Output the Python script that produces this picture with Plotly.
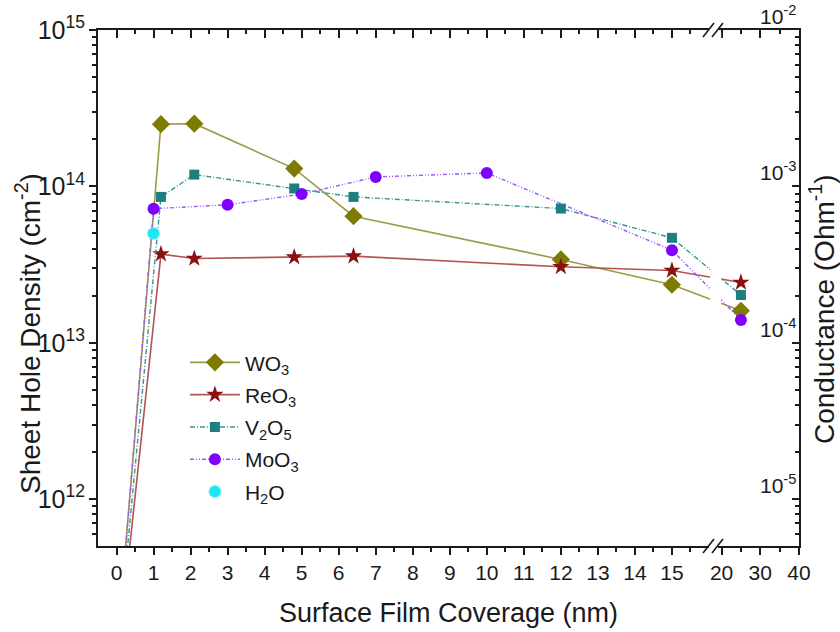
import plotly.graph_objects as go

# ---------------- data ----------------
coverage_wo3 = [0, 1.2, 2.1, 4.8, 6.4, 12, 15, 25]
density_wo3 = [1.0e11, 2.50e14, 2.52e14, 1.30e14, 6.45e13, 3.41e13, 2.35e13, 1.60e13]

coverage_reo3 = [0, 1.2, 2.1, 4.8, 6.4, 12, 15, 25]
density_reo3 = [8.0e10, 3.69e13, 3.46e13, 3.53e13, 3.58e13, 3.06e13, 2.90e13, 2.43e13]

coverage_v2o5 = [0, 1.2, 2.1, 4.8, 6.4, 12, 15, 25]
density_v2o5 = [9.0e10, 8.57e13, 1.19e14, 9.70e13, 8.57e13, 7.22e13, 4.69e13, 2.02e13]

coverage_moo3 = [0, 1, 3, 5, 7, 10, 15, 25]
density_moo3 = [9.5e10, 7.20e13, 7.63e13, 8.93e13, 1.15e14, 1.22e14, 3.91e13, 1.40e13]

coverage_h2o = [1.0]
density_h2o = [5.0e13]

x_major_labels = ["0", "1", "2", "3", "4", "5", "6", "7", "8", "9", "10",
                  "11", "12", "13", "14", "15", "20", "30", "40"]
x_major_values = [0, 1, 2, 3, 4, 5, 6, 7, 8, 9, 10, 11, 12, 13, 14, 15, 20, 30, 40]
x_minor_values = [0.5, 1.5, 2.5, 3.5, 4.5, 5.5, 6.5, 7.5, 8.5, 9.5, 10.5,
                  11.5, 12.5, 13.5, 14.5, 15.5, 25, 35]

conductance_exponents = [-2, -3, -4, -5]
conductance_labels = ["10<sup>-2</sup>", "10<sup>-3</sup>", "10<sup>-4</sup>", "10<sup>-5</sup>"]

# ---------------- broken-axis scale ----------------
SEG2_START = 16.34     # display position of x = 20
SEG2_SCALE = 0.1045    # display units per nm after the break


def brk(x):
    return x if x <= 16 else SEG2_START + (x - 20) * SEG2_SCALE


def brk_all(xs):
    return [brk(v) for v in xs]


X_RANGE = [-0.5, brk(40) + 0.001]
Y_RANGE = [11.70, 15.0005]
Y2_OFFSET = 17  # conductance = density * 1e-17

FONT = "Arial, Liberation Sans, sans-serif"
INK = "#1a1a1a"

fig = go.Figure()

fig.add_trace(go.Scatter(
    x=brk_all(coverage_wo3), y=density_wo3, mode="lines+markers", name="WO<sub>3</sub>",
    legendgroup="a",
    line=dict(color="#9c9a48", width=1.6),
    marker=dict(symbol="diamond", size=14, color="#7d7b00")))
fig.add_trace(go.Scatter(
    x=brk_all(coverage_reo3), y=density_reo3, mode="lines+markers", name="ReO<sub>3</sub>",
    legendgroup="b",
    line=dict(color="#b25454", width=1.6),
    marker=dict(symbol="star", size=13, color="#8b1010")))
fig.add_trace(go.Scatter(
    x=brk_all(coverage_v2o5), y=density_v2o5, mode="lines+markers", name="V<sub>2</sub>O<sub>5</sub>",
    legendgroup="c",
    line=dict(color="#3a9494", width=1.4, dash="5px,2px,1px,2px"),
    marker=dict(symbol="square", size=10, color="#1e7f7f")))
fig.add_trace(go.Scatter(
    x=brk_all(coverage_moo3), y=density_moo3, mode="lines+markers", name="MoO<sub>3</sub>",
    legendgroup="d",
    line=dict(color="#9a55ff", width=1.4, dash="4px,2px,1px,2px,1px,2px"),
    marker=dict(symbol="circle", size=12, color="#7f00ff")))
fig.add_trace(go.Scatter(
    x=brk_all(coverage_h2o), y=density_h2o, mode="markers", name="H<sub>2</sub>O",
    legendgroup="e",
    marker=dict(symbol="circle", size=12, color="#1ee6f0",
                line=dict(color="#7ff4f8", width=1))))

# helper traces so that the mirrored top axis and the right axis are drawn
fig.add_trace(go.Scatter(x=[], y=[], xaxis="x2", yaxis="y", showlegend=False, hoverinfo="skip"))
fig.add_trace(go.Scatter(x=[], y=[], xaxis="x", yaxis="y2", showlegend=False, hoverinfo="skip"))

axis_common = dict(showline=True, linecolor=INK, linewidth=2, showgrid=False,
                   zeroline=False, tickcolor=INK, tickwidth=1.5, automargin=False)

fig.update_layout(
    template="none",
    width=840, height=632,
    margin=dict(l=98, r=41, t=30, b=86),
    paper_bgcolor="white", plot_bgcolor="white",
    font=dict(family=FONT, size=21, color=INK),
    showlegend=True,
    legend=dict(x=0.124, y=0.395, xanchor="left", yanchor="top",
                bgcolor="rgba(0,0,0,0)", font=dict(size=21, color=INK),
                traceorder="grouped", tracegroupgap=2, itemwidth=50),
    xaxis=dict(
        **axis_common, range=X_RANGE, domain=[0, 1],
        tickmode="array", tickvals=brk_all(x_major_values), ticktext=x_major_labels,
        ticks="outside", ticklen=7, ticklabeloverflow="allow",
        minor=dict(tickmode="array", tickvals=brk_all(x_minor_values), ticks="outside",
                   ticklen=4, tickcolor=INK, tickwidth=1.5),
        tickfont=dict(size=21),
        title=dict(text="Surface Film Coverage (nm)", font=dict(size=27), standoff=20),
    ),
    xaxis2=dict(
        **axis_common, range=X_RANGE, overlaying="x", side="top",
        tickmode="array", tickvals=brk_all(x_major_values), showticklabels=False,
        ticks="inside", ticklen=8,
        minor=dict(tickmode="array", tickvals=brk_all(x_minor_values), ticks="inside",
                   ticklen=4, tickcolor=INK, tickwidth=1.5),
    ),
    yaxis=dict(
        **axis_common, type="log", range=Y_RANGE,
        dtick=1, exponentformat="power", ticks="outside", ticklen=7,
        minor=dict(dtick="D1", ticks="outside", ticklen=4, tickcolor=INK, tickwidth=1.5),
        tickfont=dict(size=20),
    ),
    yaxis2=dict(
        **axis_common, type="log", overlaying="y", side="right",
        range=[Y_RANGE[0] - Y2_OFFSET, Y_RANGE[1] - Y2_OFFSET],
        dtick=1, ticks="inside", ticklen=7, showticklabels=False,
        minor=dict(dtick="D1", ticks="inside", ticklen=4, tickcolor=INK, tickwidth=1.5),
    ),
)

W_PX, H_PX, L_PX, B_PX = 701, 516, 98, 546


def px_x(p):
    return (p - L_PX) / W_PX


def px_y(p):
    return (B_PX - p) / H_PX


# y-axis titles
fig.add_annotation(x=px_x(28), y=px_y(334), xref="paper", yref="paper",
                   text="Sheet Hole Density (cm<sup>-2</sup>)", textangle=-90, showarrow=False,
                   xanchor="center", yanchor="middle", font=dict(size=28, color=INK))
fig.add_annotation(x=px_x(822), y=px_y(309), xref="paper", yref="paper",
                   text="Conductance (Ohm<sup>-1</sup>)", textangle=-90, showarrow=False,
                   xanchor="center", yanchor="middle", font=dict(size=28, color=INK))

# right-axis tick labels (drawn inside, just left of the axis line, above each tick)
for e, lab in zip(conductance_exponents, conductance_labels):
    fig.add_annotation(x=1, xref="paper", y=e, yref="y2", text=lab, showarrow=False,
                       xanchor="right", yanchor="bottom", xshift=-1, yshift=0,
                       font=dict(size=21, color=INK))

# white gap in the data lines at the axis break
fig.add_shape(type="rect", xref="x", yref="paper", x0=16.03, x1=16.33, y0=0.006, y1=0.994,
              fillcolor="white", line=dict(width=0), layer="above")

# break marks ("//") on the top and bottom axes
for axis_py in (30, 546):
    fig.add_shape(type="rect", xref="paper", yref="paper",
                  x0=px_x(709), x1=px_x(718), y0=px_y(axis_py + 2), y1=px_y(axis_py - 2),
                  fillcolor="white", line=dict(width=0), layer="above")
    for start in (703, 712):
        fig.add_shape(type="line", xref="paper", yref="paper",
                      x0=px_x(start), y0=px_y(axis_py + 7),
                      x1=px_x(start + 11), y1=px_y(axis_py - 7),
                      line=dict(color=INK, width=1.6), layer="above")

fig.write_html("out.html",
               config={"displayModeBar": False},
               post_script="document.body.style.margin='0';document.body.style.padding='0';")
